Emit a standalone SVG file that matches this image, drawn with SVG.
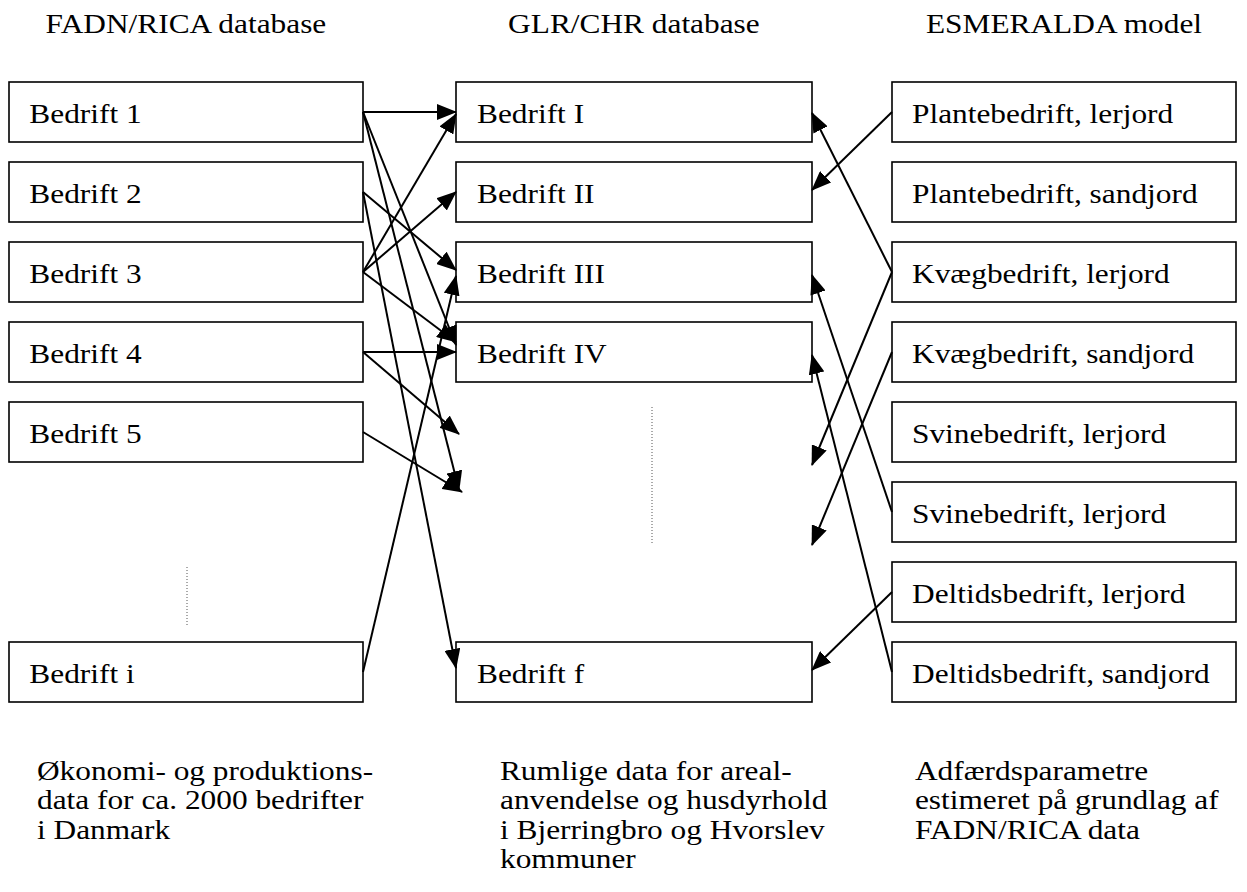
<svg xmlns="http://www.w3.org/2000/svg" width="1247" height="892" viewBox="0 0 1247 892">
<defs>
<style>
.box{fill:#fff;stroke:#000;stroke-width:1.6}
.t{font-family:"Liberation Serif","Times New Roman",serif;font-size:28px;fill:#000}
.h{text-anchor:middle}
.c{stroke:#000;stroke-width:2;fill:none;marker-end:url(#ah)}
.dot{stroke:#555;stroke-width:1;stroke-dasharray:1 2;fill:none}
</style>
<marker id="ah" viewBox="0 0 20 16" markerWidth="20" markerHeight="16" refX="19" refY="8" orient="auto" markerUnits="userSpaceOnUse">
<path d="M0,0 L20,8 L0,16 z" fill="#000"/>
</marker>
</defs>
<rect width="1247" height="892" fill="#fff"/>
<g id="headers" transform="scale(1.12,1)">
<text class="t h" x="166" y="33">FADN/RICA database</text>
<text class="t h" x="566" y="33">GLR/CHR database</text>
<text class="t h" x="950" y="33">ESMERALDA model</text>
</g>
<g id="left-col">
<rect class="box" x="9" y="82" width="354" height="60"/>
<rect class="box" x="9" y="162" width="354" height="60"/>
<rect class="box" x="9" y="242" width="354" height="60"/>
<rect class="box" x="9" y="322" width="354" height="60"/>
<rect class="box" x="9" y="402" width="354" height="60"/>
<rect class="box" x="9" y="642" width="354" height="60"/>
<g transform="scale(1.12,1)">
<text class="t" x="26.2" y="123">Bedrift 1</text>
<text class="t" x="26.2" y="203">Bedrift 2</text>
<text class="t" x="26.2" y="283">Bedrift 3</text>
<text class="t" x="26.2" y="363">Bedrift 4</text>
<text class="t" x="26.2" y="443">Bedrift 5</text>
<text class="t" x="26.2" y="683">Bedrift i</text>
</g>
</g>
<g id="mid-col">
<rect class="box" x="456" y="82" width="356" height="60"/>
<rect class="box" x="456" y="162" width="356" height="60"/>
<rect class="box" x="456" y="242" width="356" height="60"/>
<rect class="box" x="456" y="322" width="356" height="60"/>
<rect class="box" x="456" y="642" width="356" height="60"/>
<g transform="scale(1.12,1)">
<text class="t" x="425.9" y="123">Bedrift I</text>
<text class="t" x="425.9" y="203">Bedrift II</text>
<text class="t" x="425.9" y="283">Bedrift III</text>
<text class="t" x="425.9" y="363">Bedrift IV</text>
<text class="t" x="425.9" y="683">Bedrift f</text>
</g>
</g>
<g id="right-col">
<rect class="box" x="892" y="82" width="344" height="60"/>
<rect class="box" x="892" y="162" width="344" height="60"/>
<rect class="box" x="892" y="242" width="344" height="60"/>
<rect class="box" x="892" y="322" width="344" height="60"/>
<rect class="box" x="892" y="402" width="344" height="60"/>
<rect class="box" x="892" y="482" width="344" height="60"/>
<rect class="box" x="892" y="562" width="344" height="60"/>
<rect class="box" x="892" y="642" width="344" height="60"/>
<g transform="scale(1.12,1)">
<text class="t" x="814.3" y="123">Plantebedrift, lerjord</text>
<text class="t" x="814.3" y="203">Plantebedrift, sandjord</text>
<text class="t" x="814.3" y="283">Kvægbedrift, lerjord</text>
<text class="t" x="814.3" y="363">Kvægbedrift, sandjord</text>
<text class="t" x="814.3" y="443">Svinebedrift, lerjord</text>
<text class="t" x="814.3" y="523">Svinebedrift, lerjord</text>
<text class="t" x="814.3" y="603">Deltidsbedrift, lerjord</text>
<text class="t" x="814.3" y="683">Deltidsbedrift, sandjord</text>
</g>
</g>
<g id="dots">
<line class="dot" x1="187" y1="567" x2="187" y2="625"/>
<line class="dot" x1="652" y1="407" x2="652" y2="545"/>
</g>
<g id="connectors">
<line class="c" x1="363" y1="112" x2="456" y2="112"/>
<line class="c" x1="363" y1="112" x2="456" y2="345"/>
<line class="c" x1="363" y1="112" x2="459" y2="490"/>
<line class="c" x1="363" y1="192" x2="456" y2="270"/>
<line class="c" x1="363" y1="192" x2="456" y2="668"/>
<line class="c" x1="363" y1="272" x2="456" y2="114"/>
<line class="c" x1="363" y1="272" x2="456" y2="192"/>
<line class="c" x1="363" y1="272" x2="456" y2="342"/>
<line class="c" x1="363" y1="352" x2="456" y2="352"/>
<line class="c" x1="363" y1="352" x2="459" y2="434"/>
<line class="c" x1="363" y1="432" x2="462" y2="492"/>
<line class="c" x1="363" y1="672" x2="456" y2="276"/>
<line class="c" x1="892" y1="112" x2="812" y2="190"/>
<line class="c" x1="892" y1="272" x2="812" y2="113"/>
<line class="c" x1="892" y1="272" x2="812" y2="465"/>
<line class="c" x1="892" y1="352" x2="812" y2="545"/>
<line class="c" x1="892" y1="512" x2="812" y2="275"/>
<line class="c" x1="892" y1="672" x2="812" y2="355"/>
<line class="c" x1="892" y1="592" x2="812" y2="670"/>
</g>
<g id="captions" transform="scale(1.12,1)">
<text class="t" x="33" y="780">Økonomi- og produktions-</text>
<text class="t" x="33" y="809.5">data for ca. 2000 bedrifter</text>
<text class="t" x="33" y="839">i Danmark</text>
<text class="t" x="446.4" y="780">Rumlige data for areal-</text>
<text class="t" x="446.4" y="809.5">anvendelse og husdyrhold</text>
<text class="t" x="446.4" y="839">i Bjerringbro og Hvorslev</text>
<text class="t" x="446.4" y="868.5">kommuner</text>
<text class="t" x="816.9" y="780">Adfærdsparametre</text>
<text class="t" x="816.9" y="809.5">estimeret på grundlag af</text>
<text class="t" x="816.9" y="839">FADN/RICA data</text>
</g>
</svg>
